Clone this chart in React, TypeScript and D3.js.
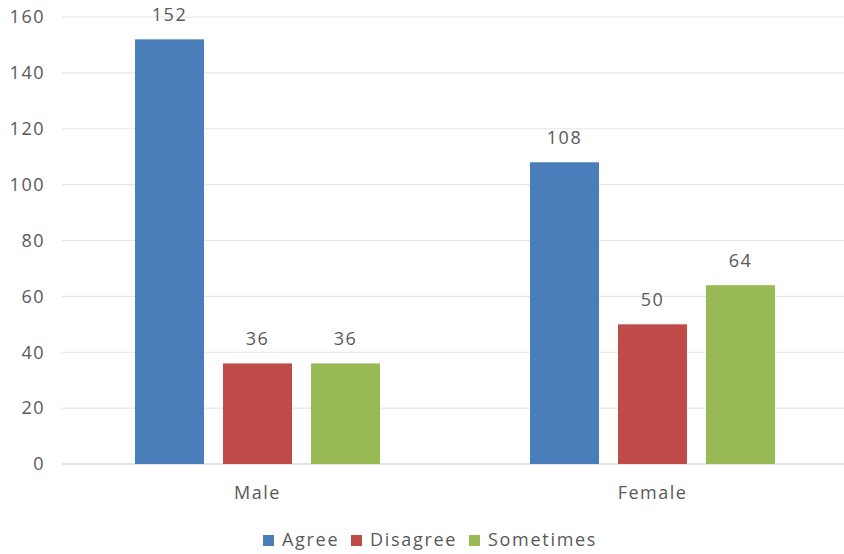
import React from "react";
import * as d3 from "d3";

const categories = ["Male", "Female"];
const seriesNames = ["Agree", "Disagree", "Sometimes"];
const agreeValues = [152, 108];
const disagreeValues = [36, 50];
const sometimesValues = [36, 64];
const yTicks = [0, 20, 40, 60, 80, 100, 120, 140, 160];

const colors = ["#4a7ebb", "#be4b48", "#98b954"];
const textColor = "#595959";
const font = "'Open Sans', sans-serif";

const width = 844;
const height = 554;

const App: React.FC = () => {
  const series = [agreeValues, disagreeValues, sometimesValues];

  const x = d3.scaleBand<string>().domain(categories).range([60, 850]).padding(0);
  const inner = d3
    .scaleBand<string>()
    .domain(seriesNames)
    .range([-122.5, 122.5])
    .paddingInner(0.216)
    .paddingOuter(0);
  const y = d3.scaleLinear().domain([0, 160]).range([464, 17]);

  const legendX = [263, 351, 469];

  return (
    <svg width={width} height={height} style={{ position: "absolute", left: 0, top: 0, background: "#fff" }}>
      {/* grid */}
      {yTicks.map((t) => (
        <g key={t}>
          <line
            x1={62}
            x2={width}
            y1={y(t)}
            y2={y(t)}
            stroke={t === 0 ? "#d9d9d9" : "#e6e6e6"}
            strokeWidth={t === 0 ? 1.5 : 1.2}
          />
          <text
            x={45}
            y={y(t)}
            dy="0.35em"
            textAnchor="end"
            fontFamily={font}
            fontSize={18}
            letterSpacing={1.5}
            fill={textColor}
          >
            {t}
          </text>
        </g>
      ))}

      {/* bars */}
      {categories.map((c, ci) => {
        const cx = x(c)! + x.bandwidth() / 2;
        return (
          <g key={c}>
            {seriesNames.map((s, si) => {
              const v = series[si][ci];
              const bx = cx + inner(s)!;
              return (
                <g key={s}>
                  <rect
                    x={bx}
                    y={y(v)}
                    width={inner.bandwidth()}
                    height={y(0) - y(v)}
                    fill={colors[si]}
                  />
                  <text
                    x={bx + inner.bandwidth() / 2}
                    y={y(v) - 18}
                    textAnchor="middle"
                    fontFamily={font}
                    fontSize={18}
                    letterSpacing={1.5}
                    fill={textColor}
                  >
                    {v}
                  </text>
                </g>
              );
            })}
            <text
              x={cx}
              y={499}
              textAnchor="middle"
              fontFamily={font}
              fontSize={18}
              letterSpacing={1.5}
              fill={textColor}
            >
              {c}
            </text>
          </g>
        );
      })}

      {/* legend */}
      {seriesNames.map((s, i) => (
        <g key={s}>
          <rect x={legendX[i]} y={535} width={11} height={11} fill={colors[i]} />
          <text
            x={legendX[i] + 19}
            y={546}
            fontFamily={font}
            fontSize={18}
            letterSpacing={1.7}
            fill={textColor}
          >
            {s}
          </text>
        </g>
      ))}
    </svg>
  );
};

export default App;
